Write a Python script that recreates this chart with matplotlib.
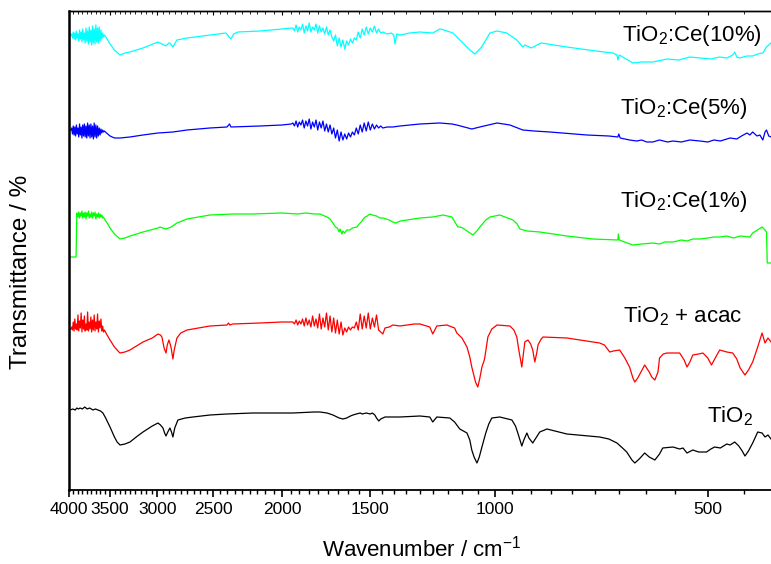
import numpy as np
import matplotlib
matplotlib.use("Agg")
import matplotlib.pyplot as plt
from matplotlib.ticker import FixedLocator, NullFormatter, FuncFormatter

plt.rcParams['font.family'] = ['Liberation Sans', 'DejaVu Sans']
plt.rcParams['mathtext.fontset'] = 'custom'
plt.rcParams['mathtext.rm'] = 'Liberation Sans'
plt.rcParams['mathtext.it'] = 'Liberation Sans:italic'
plt.rcParams['mathtext.default'] = 'regular'

# --- spectra: (wavenumber cm-1, offset transmittance, arb. units) ---
ce10 = [
    (3987, 455), (3974, 455),
    (3965, 456), (3955, 452), (3945, 458), (3935, 451), (3925, 457), (3915, 450), (3905, 459),
    (3895, 452), (3885, 456), (3875, 449), (3865, 460), (3855, 451), (3845, 458), (3835, 448),
    (3825, 461), (3815, 450), (3805, 457), (3795, 447), (3785, 462), (3775, 449), (3765, 459),
    (3755, 446), (3745, 463), (3735, 448), (3725, 460), (3715, 445), (3705, 464), (3695, 447),
    (3685, 461), (3675, 446), (3665, 465), (3655, 448), (3645, 462), (3635, 447), (3625, 463),
    (3615, 449), (3605, 460), (3595, 451), (3585, 457), (3575, 453), (3565, 455),
    (3540, 452), (3500, 446), (3450, 440), (3400, 436), (3388, 435), (3334, 437), (3280, 438),
    (3144, 442), (2994, 448), (2956, 446), (2917, 444), (2889, 447), (2880, 447), (2852, 443),
    (2815, 450), (2724, 452), (2528, 455), (2400, 457), (2380, 454), (2361, 451), (2340, 456),
    (2308, 458), (2148, 459), (2000, 461), (1940, 462),
    (1930, 462), (1920, 459), (1910, 465), (1900, 458), (1890, 463), (1880, 460), (1870, 466),
    (1860, 457), (1850, 464), (1840, 459), (1830, 467), (1820, 458), (1810, 463), (1800, 460),
    (1790, 466), (1780, 457), (1770, 464), (1760, 458), (1750, 462), (1740, 456), (1730, 463),
    (1720, 455), (1710, 460), (1700, 453), (1690, 449), (1680, 455), (1670, 444), (1660, 452),
    (1650, 443), (1640, 450), (1630, 441), (1620, 449), (1610, 445), (1600, 451), (1590, 447),
    (1580, 452), (1570, 450), (1560, 458), (1550, 452), (1540, 461), (1530, 455), (1520, 463),
    (1510, 456), (1500, 462), (1490, 458), (1480, 464), (1470, 457), (1460, 461), (1450, 457),
    (1440, 458), (1420, 456), (1400, 457), (1390, 455), (1384, 446), (1376, 456), (1362, 455),
    (1320, 457), (1276, 458), (1224, 457), (1196, 461), (1180, 460), (1158, 458), (1146, 457),
    (1113, 448), (1085, 440), (1067, 436), (1044, 443), (1016, 457), (993, 459), (962, 457),
    (931, 450), (913, 443), (907, 445), (888, 442), (860, 447), (791, 443), (720, 439),
    (681, 437), (672, 435), (670, 430), (667, 435), (638, 427), (620, 428), (598, 428),
    (580, 430), (571, 431), (550, 430), (530, 433), (513, 432), (495, 431), (481, 433),
    (470, 432), (461, 435), (458, 438), (455, 433), (451, 432), (440, 434), (432, 434),
    (425, 436), (418, 437), (413, 443), (407, 447),
]

ce5 = [
    (3987, 360), (3974, 360),
    (3965, 362), (3955, 356), (3945, 364), (3935, 355), (3925, 363), (3915, 354), (3905, 365),
    (3895, 356), (3885, 362), (3875, 353), (3865, 366), (3855, 355), (3845, 363), (3835, 352),
    (3825, 365), (3815, 354), (3805, 366), (3795, 353), (3785, 364), (3775, 352), (3765, 367),
    (3755, 354), (3745, 365), (3735, 352), (3725, 366), (3715, 353), (3705, 364), (3695, 351),
    (3685, 367), (3675, 353), (3665, 365), (3655, 352), (3645, 364), (3635, 354), (3625, 362),
    (3615, 355), (3605, 361), (3595, 357), (3585, 360), (3575, 358), (3565, 359),
    (3540, 357), (3500, 354), (3450, 352), (3388, 352), (3280, 353), (3144, 355), (2994, 357),
    (2852, 358), (2724, 360), (2528, 362), (2392, 363), (2372, 366), (2361, 363), (2148, 364),
    (2000, 365), (1940, 366),
    (1930, 367), (1920, 364), (1910, 369), (1900, 363), (1890, 368), (1880, 365), (1870, 370),
    (1860, 362), (1850, 369), (1840, 364), (1830, 371), (1820, 361), (1810, 368), (1800, 363),
    (1790, 370), (1780, 360), (1770, 368), (1760, 362), (1750, 369), (1740, 359), (1730, 366),
    (1720, 358), (1710, 365), (1700, 356), (1690, 362), (1680, 352), (1670, 360), (1660, 349),
    (1650, 358), (1640, 350), (1630, 356), (1620, 351), (1610, 357), (1600, 353), (1590, 358),
    (1580, 355), (1570, 362), (1560, 356), (1550, 365), (1540, 358), (1530, 367), (1520, 359),
    (1510, 368), (1500, 360), (1490, 366), (1480, 361), (1470, 365), (1460, 362), (1450, 364),
    (1440, 362), (1420, 363), (1394, 363), (1362, 364), (1276, 366), (1196, 367), (1150, 366),
    (1132, 365), (1078, 361), (1050, 363), (993, 367), (952, 365), (913, 360), (880, 359),
    (836, 358), (741, 355), (690, 354), (670, 353), (668, 356), (665, 352), (645, 350),
    (630, 349), (620, 350), (610, 348), (598, 348), (585, 350), (570, 348), (560, 349),
    (545, 348), (530, 350), (513, 349), (500, 348), (490, 350), (480, 349), (465, 352),
    (455, 351), (448, 354), (440, 357), (436, 355), (432, 358), (426, 354), (422, 355),
    (418, 350), (415, 358), (413, 360), (410, 354), (407, 353),
]

ce1 = [
    (3987, 233), (3950, 233), (3915, 233), (3909, 233), (3900, 277),
    (3895, 276), (3885, 273), (3875, 278), (3865, 272), (3855, 277), (3845, 274), (3835, 279),
    (3825, 272), (3815, 277), (3805, 273), (3795, 278), (3785, 271), (3775, 277), (3765, 274),
    (3755, 279), (3745, 272), (3735, 276), (3725, 273), (3715, 278), (3705, 272), (3695, 277),
    (3685, 274), (3675, 278), (3665, 271), (3655, 276), (3645, 273), (3635, 277), (3625, 272),
    (3615, 276), (3605, 273), (3595, 275), (3585, 272), (3575, 273), (3565, 271),
    (3540, 268), (3500, 262), (3450, 256), (3400, 252), (3388, 251), (3334, 252), (3280, 254),
    (3144, 258), (2994, 262), (2975, 263), (2917, 261), (2868, 263), (2815, 267), (2724, 271),
    (2528, 275), (2346, 276), (2200, 276), (2000, 277), (1900, 276), (1850, 277), (1800, 276),
    (1767, 276), (1727, 273), (1710, 271), (1694, 267), (1680, 263), (1670, 262), (1660, 258),
    (1655, 261), (1645, 256), (1640, 259), (1630, 257), (1620, 260), (1603, 260), (1590, 262),
    (1567, 263), (1555, 266), (1545, 268), (1535, 271), (1525, 273), (1515, 274), (1502, 276),
    (1490, 275), (1470, 274), (1454, 272), (1439, 272), (1410, 270), (1394, 268), (1381, 267),
    (1360, 269), (1332, 270), (1276, 272), (1224, 273), (1184, 275), (1150, 273), (1128, 263),
    (1120, 263), (1110, 262), (1090, 258), (1074, 255), (1060, 259), (1050, 263), (1030, 270),
    (1016, 273), (984, 275), (943, 270), (930, 266), (922, 261), (900, 259), (864, 258),
    (791, 254), (727, 251), (670, 250), (669, 256), (667, 250), (650, 247), (638, 245),
    (620, 246), (598, 247), (585, 246), (575, 248), (560, 248), (545, 250), (535, 249),
    (525, 251), (513, 251), (500, 252), (490, 253), (481, 253), (470, 254), (460, 252),
    (450, 254), (436, 253), (432, 257), (419, 263), (415, 260), (413, 258), (412, 227),
    (407, 227),
]

acac = [
    (3987, 161), (3974, 161),
    (3965, 163), (3955, 160), (3945, 168), (3935, 159), (3925, 171), (3915, 161), (3905, 166),
    (3895, 160), (3885, 175), (3875, 159), (3865, 169), (3855, 162), (3845, 177), (3835, 158),
    (3825, 170), (3815, 161), (3805, 174), (3795, 159), (3785, 166), (3775, 160), (3765, 178),
    (3755, 159), (3745, 168), (3735, 161), (3725, 173), (3715, 158), (3705, 170), (3695, 160),
    (3685, 175), (3675, 159), (3665, 168), (3655, 161), (3645, 176), (3635, 158), (3625, 169),
    (3615, 162), (3605, 171), (3595, 159), (3585, 164), (3575, 158), (3565, 160),
    (3540, 156), (3500, 150), (3450, 143), (3400, 138), (3388, 137), (3334, 138), (3280, 140),
    (3144, 148), (3050, 152), (2994, 156), (2970, 155), (2956, 153), (2935, 142), (2917, 137),
    (2905, 145), (2889, 150), (2870, 143), (2852, 131), (2840, 140), (2815, 152), (2780, 157),
    (2724, 160), (2528, 164), (2392, 165), (2380, 167), (2370, 165), (2346, 166), (2148, 167),
    (2000, 168), (1940, 168),
    (1930, 168), (1920, 166), (1910, 170), (1900, 165), (1890, 169), (1880, 166), (1870, 171),
    (1860, 164), (1850, 172), (1840, 165), (1830, 170), (1820, 163), (1810, 174), (1800, 164),
    (1790, 171), (1780, 162), (1770, 176), (1760, 161), (1750, 172), (1740, 163), (1730, 177),
    (1720, 160), (1710, 174), (1700, 158), (1690, 172), (1680, 157), (1670, 170), (1660, 156),
    (1650, 168), (1640, 155), (1630, 162), (1620, 158), (1610, 163), (1600, 160), (1590, 163),
    (1580, 162), (1570, 168), (1560, 160), (1550, 176), (1540, 161), (1530, 174), (1520, 162),
    (1510, 177), (1500, 161), (1490, 172), (1480, 163), (1470, 175), (1460, 160), (1450, 158),
    (1440, 156), (1430, 162), (1410, 163), (1394, 165), (1362, 164), (1300, 166), (1276, 166),
    (1236, 163), (1224, 156), (1208, 164), (1169, 165), (1140, 162), (1132, 157), (1113, 152),
    (1095, 143), (1085, 133), (1078, 123), (1065, 108), (1057, 103), (1050, 112), (1043, 123),
    (1035, 130), (1033, 133), (1023, 153), (1010, 161), (993, 165), (952, 164), (940, 160),
    (931, 153), (925, 140), (916, 123), (910, 140), (907, 148), (898, 150), (890, 146),
    (884, 140), (878, 128), (872, 138), (869, 145), (860, 151), (855, 153), (791, 152),
    (711, 147), (700, 145), (688, 138), (680, 139), (666, 140), (655, 132), (645, 123),
    (638, 112), (634, 108), (628, 112), (614, 125), (605, 118), (600, 113), (594, 110),
    (588, 118), (585, 132), (578, 136), (571, 137), (548, 137), (540, 130), (535, 123),
    (530, 128), (525, 135), (515, 136), (508, 137), (500, 132), (494, 125), (488, 132),
    (481, 140), (470, 138), (461, 137), (455, 131), (450, 122), (443, 115), (438, 120),
    (432, 128), (425, 143), (419, 157), (415, 147), (411, 152), (407, 148),
]

tio2 = [
    (3987, 80), (3950, 81), (3920, 80), (3900, 82), (3880, 81), (3858, 82), (3830, 81),
    (3800, 83), (3770, 81), (3740, 82), (3700, 80), (3670, 81), (3638, 80), (3610, 79),
    (3582, 77), (3550, 72), (3500, 63), (3450, 53), (3420, 48), (3388, 45), (3334, 46),
    (3280, 48), (3200, 54), (3144, 58), (3050, 64), (2994, 67), (2970, 65), (2946, 62),
    (2930, 57), (2917, 54), (2900, 58), (2880, 62), (2865, 58), (2852, 53), (2835, 62),
    (2806, 70), (2740, 72), (2672, 73), (2528, 75), (2392, 76), (2200, 77), (1930, 77),
    (1800, 78), (1767, 78), (1727, 77), (1694, 75), (1660, 72), (1640, 71), (1620, 72),
    (1600, 74), (1587, 75), (1570, 76), (1550, 77), (1540, 76), (1520, 77), (1500, 76),
    (1490, 77), (1478, 75), (1470, 72), (1459, 69), (1450, 71), (1430, 73), (1362, 73),
    (1276, 74), (1236, 73), (1224, 68), (1208, 73), (1158, 72), (1140, 68), (1121, 61),
    (1095, 57), (1085, 50), (1078, 40), (1070, 33), (1060, 27), (1052, 33), (1043, 43),
    (1030, 57), (1020, 66), (1010, 72), (984, 73), (946, 70), (935, 64), (928, 57),
    (916, 44), (910, 50), (901, 57), (895, 52), (884, 47), (875, 52), (864, 58), (844, 61),
    (791, 56), (711, 53), (690, 51), (672, 47), (660, 42), (651, 38), (640, 30), (634, 27),
    (625, 31), (614, 37), (605, 33), (594, 30), (585, 36), (579, 42), (560, 43), (548, 41),
    (542, 42), (535, 37), (525, 40), (515, 38), (502, 38), (495, 41), (489, 43), (480, 42),
    (470, 46), (465, 45), (458, 48), (452, 44), (447, 39), (443, 34), (438, 39), (432, 47),
    (425, 58), (419, 57), (415, 53), (411, 55), (407, 51),
]

series = [tio2, acac, ce1, ce5, ce10]
colors = ['black', 'red', '#00ff00', 'blue', 'cyan']
labels = [r'TiO$_2$', r'TiO$_2$ + acac', r'TiO$_2$:Ce(1%)', r'TiO$_2$:Ce(5%)', r'TiO$_2$:Ce(10%)']
# label anchor (figure pixels, left / baseline)
label_px = [(707, 422), (623, 322), (620, 207), (620, 114), (622, 41)]

major_ticks = [4000, 3500, 3000, 2500, 2000, 1500, 1000, 500]
minor_ticks = []
for a, b in zip(major_ticks[:-1], major_ticks[1:]):
    minor_ticks += list(np.linspace(a, b, 10)[1:-1])
minor_ticks += [500 - 500 / 9]

W, H = 771, 564
fig = plt.figure(figsize=(W / 100, H / 100), dpi=100)
ax = fig.add_axes([69 / W, 1 - 490 / H, (W - 69) / W, (490 - 11) / H])

for data, c in zip(series, colors):
    x = [p[0] for p in data]
    y = [p[1] for p in data]
    ax.plot(x, y, color=c, linewidth=0.9)

ax.set_xscale('log')
ax.set_xlim(4000, 407)
ax.set_ylim(0, 479)
ax.xaxis.set_major_locator(FixedLocator(major_ticks))
ax.xaxis.set_minor_locator(FixedLocator(minor_ticks))
ax.xaxis.set_major_formatter(FuncFormatter(lambda v, p: f"{v:.0f}"))
ax.xaxis.set_minor_formatter(NullFormatter())
ax.set_yticks([])
ax.tick_params(axis='x', which='major', direction='out', length=5, width=1.2, labelsize=12.5, pad=4)
ax.tick_params(axis='x', which='minor', direction='out', length=3, width=1.0)
ax.spines['right'].set_visible(False)
ax.spines['left'].set_linewidth(1.8)
ax.spines['bottom'].set_linewidth(1.3)
ax.spines['top'].set_linewidth(1.0)

ax2 = ax.twiny()
ax2.set_xscale('log')
ax2.set_xlim(ax.get_xlim())
ax2.xaxis.set_major_locator(FixedLocator(major_ticks))
ax2.xaxis.set_minor_locator(FixedLocator(minor_ticks))
ax2.xaxis.set_major_formatter(NullFormatter())
ax2.xaxis.set_minor_formatter(NullFormatter())
ax2.tick_params(axis='x', which='major', direction='in', length=3, width=0.8)
ax2.tick_params(axis='x', which='minor', direction='in', length=2, width=0.6)
for s in ['left', 'right', 'bottom']:
    ax2.spines[s].set_visible(False)
ax2.spines['top'].set_linewidth(1.0)

for lab, (px, py) in zip(labels, label_px):
    fig.text(px / W, 1 - py / H, lab, fontsize=16, ha='left', va='baseline')

fig.text(422 / W, 1 - 557 / H, r'Wavenumber / cm$^{-1}$', fontsize=16, ha='center', va='baseline')
fig.text(21 / W, 1 - 272 / H, 'Transmittance / %', fontsize=17.5, rotation=90, ha='center', va='center')

fig.savefig('out.png', dpi=100)
